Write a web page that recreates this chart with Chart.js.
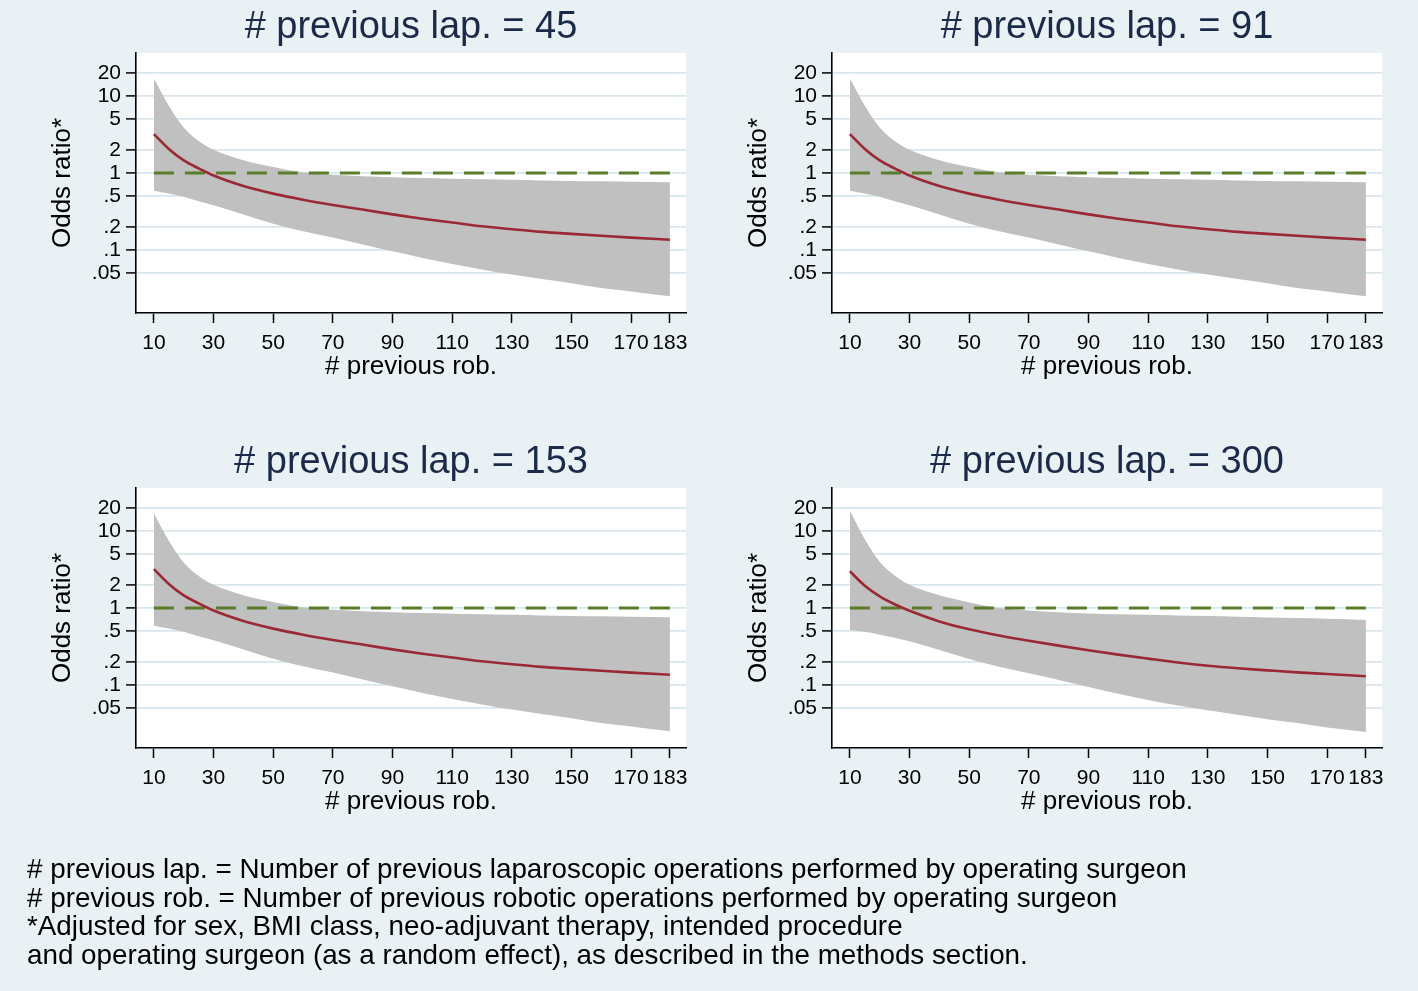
<!DOCTYPE html>
<html>
<head>
<meta charset="utf-8">
<script src="https://cdn.jsdelivr.net/npm/chart.js@4/dist/chart.umd.min.js"></script>
<style>
  html, body { margin: 0; padding: 0; background: #eaf1f4; }
  body { width: 1418px; height: 991px; position: relative; overflow: hidden; font-family: "Liberation Sans", Arial, sans-serif; }
  canvas { position: absolute; }
  #note { position: absolute; left: 27px; top: 855px; font-size: 27.8px; line-height: 28.7px; color: #000; white-space: nowrap; }
</style>
</head>
<body>
<canvas id="c1" width="696" height="435" style="left:0px;top:0px"></canvas>
<canvas id="c2" width="696" height="435" style="left:696px;top:0px"></canvas>
<canvas id="c3" width="696" height="435" style="left:0px;top:435px"></canvas>
<canvas id="c4" width="696" height="435" style="left:696px;top:435px"></canvas>
<div id="note">
# previous lap. = Number of previous laparoscopic operations performed by operating surgeon<br>
# previous rob. = Number of previous robotic operations performed by operating surgeon<br>
*Adjusted for sex, BMI class, neo-adjuvant therapy, intended procedure<br>
and operating surgeon (as a random effect), as described in the methods section.
</div>
<script>
// ---- data ----
const prevRob = [10, 15, 20, 25, 30, 40, 50, 60, 70, 80, 90, 100, 110, 120, 130, 140, 150, 160, 170, 183];

const panelTitles = ["# previous lap. = 45", "# previous lap. = 91", "# previous lap. = 153", "# previous lap. = 300"];

const or45  = [3.2, 2.05, 1.46, 1.15, 0.93, 0.68, 0.54, 0.45, 0.385, 0.335, 0.29, 0.255, 0.228, 0.203, 0.186, 0.172, 0.162, 0.153, 0.145, 0.136];
const up45  = [17, 7.5, 3.9, 2.6, 2.0, 1.47, 1.2, 1.02, 0.95, 0.91, 0.88, 0.86, 0.845, 0.83, 0.815, 0.80, 0.79, 0.78, 0.77, 0.76];
const lo45  = [0.59, 0.54, 0.49, 0.43, 0.38, 0.29, 0.22, 0.175, 0.145, 0.118, 0.096, 0.079, 0.066, 0.056, 0.048, 0.042, 0.037, 0.032, 0.029, 0.025];

const or91  = [3.2, 2.05, 1.46, 1.15, 0.93, 0.68, 0.54, 0.45, 0.385, 0.335, 0.29, 0.255, 0.228, 0.203, 0.186, 0.172, 0.162, 0.153, 0.145, 0.136];
const up91  = [17, 7.5, 3.9, 2.6, 2.0, 1.47, 1.2, 1.02, 0.95, 0.91, 0.88, 0.86, 0.845, 0.83, 0.815, 0.80, 0.79, 0.78, 0.77, 0.76];
const lo91  = [0.59, 0.54, 0.49, 0.43, 0.38, 0.29, 0.22, 0.175, 0.145, 0.118, 0.096, 0.079, 0.066, 0.056, 0.048, 0.042, 0.037, 0.032, 0.029, 0.025];

const or153 = [3.2, 2.05, 1.46, 1.15, 0.93, 0.68, 0.54, 0.45, 0.385, 0.335, 0.29, 0.255, 0.228, 0.203, 0.186, 0.172, 0.162, 0.153, 0.145, 0.136];
const up153 = [17, 7.5, 3.9, 2.6, 2.0, 1.47, 1.2, 1.02, 0.95, 0.91, 0.88, 0.86, 0.845, 0.83, 0.815, 0.80, 0.79, 0.78, 0.77, 0.76];
const lo153 = [0.59, 0.54, 0.49, 0.43, 0.38, 0.29, 0.22, 0.175, 0.145, 0.118, 0.096, 0.079, 0.066, 0.056, 0.048, 0.042, 0.037, 0.032, 0.029, 0.025];

const or300 = [3.0, 1.95, 1.42, 1.12, 0.92, 0.67, 0.53, 0.44, 0.375, 0.325, 0.283, 0.248, 0.22, 0.196, 0.178, 0.165, 0.155, 0.146, 0.139, 0.13];
const up300 = [18.5, 7.8, 4.0, 2.65, 2.0, 1.46, 1.18, 1.0, 0.93, 0.88, 0.85, 0.83, 0.815, 0.80, 0.785, 0.77, 0.755, 0.74, 0.725, 0.70];
const lo300 = [0.52, 0.49, 0.45, 0.41, 0.37, 0.285, 0.218, 0.172, 0.142, 0.116, 0.094, 0.077, 0.064, 0.054, 0.047, 0.041, 0.036, 0.032, 0.028, 0.0245];

const refOR = [1, 1];
const refX = [10, 183];

const xTicks = [10, 30, 50, 70, 90, 110, 130, 150, 170, 183];
const yTicks = [0.05, 0.1, 0.2, 0.5, 1, 2, 5, 10, 20];
const yTickLabels = [".05", ".1", ".2", ".5", "1", "2", "5", "10", "20"];

const xTitle = "# previous rob.";
const yTitle = "Odds ratio*";

// ---- drawing ----
const FONT = "'Liberation Sans', Arial, sans-serif";
const pts = (xs, ys) => xs.map((x, i) => ({x: x, y: ys[i]}));

const plotBg = {
  id: 'plotBg',
  beforeDraw(chart) {
    const {ctx, chartArea: a} = chart;
    ctx.save();
    ctx.fillStyle = '#ffffff';
    ctx.fillRect(a.left, a.top, a.right - a.left, a.bottom - a.top);
    ctx.restore();
  }
};

function makeChart(id, title, orv, upv, lov) {
  new Chart(document.getElementById(id), {
    type: 'line',
    data: {
      datasets: [
        { label: 'OR', data: pts(prevRob, orv), borderColor: '#9a2935', borderWidth: 2.6, pointRadius: 0, fill: false, cubicInterpolationMode: 'monotone' },
        { label: 'ref', data: pts(refX, refOR), borderColor: '#5a7d2b', borderWidth: 3, borderDash: [20, 11], pointRadius: 0, fill: false },
        { label: 'upper', data: pts(prevRob, upv), borderWidth: 0, borderColor: 'rgba(0,0,0,0)', backgroundColor: '#c0c0c0', pointRadius: 0, fill: '+1', cubicInterpolationMode: 'monotone' },
        { label: 'lower', data: pts(prevRob, lov), borderWidth: 0, borderColor: 'rgba(0,0,0,0)', pointRadius: 0, fill: false, cubicInterpolationMode: 'monotone' }
      ]
    },
    options: {
      responsive: false,
      animation: false,
      devicePixelRatio: 1,
      layout: { padding: { left: 0, top: 0, right: 10, bottom: 42 } },
      plugins: {
        legend: { display: false },
        tooltip: { enabled: false },
        title: {
          display: true, text: title, fullSize: false, color: '#1c2a4a',
          font: { family: FONT, size: 38, weight: 'normal', lineHeight: 1.2 },
          padding: { top: 5.2, bottom: 2.2 }
        }
      },
      scales: {
        x: {
          type: 'linear', min: 4, max: 188.4,
          afterBuildTicks: s => { s.ticks = xTicks.map(v => ({value: v})); },
          afterFit: s => { s.height = 80; },
          ticks: { autoSkip: false, maxRotation: 0, padding: 7.4, color: '#000', font: { family: FONT, size: 21 }, callback: v => String(v) },
          grid: { drawOnChartArea: false, drawTicks: true, tickLength: 10, tickColor: '#000', tickWidth: 1.5 },
          border: { display: true, color: '#000', width: 1.6 },
          title: { display: true, text: xTitle, color: '#000', font: { family: FONT, size: 26, lineHeight: 1.2 }, padding: { top: 0, bottom: 10.4 } }
        },
        y: {
          type: 'logarithmic', min: 0.0152, max: 36.2,
          afterBuildTicks: s => { s.ticks = yTicks.map(v => ({value: v})); },
          afterFit: s => { s.width = 136; },
          ticks: { padding: 5, color: '#000', font: { family: FONT, size: 21 }, callback: v => { const i = yTicks.indexOf(v); return i >= 0 ? yTickLabels[i] : ''; } },
          grid: { color: '#d8e6ec', lineWidth: 1.8, drawTicks: true, tickLength: 10, tickColor: '#000', tickWidth: 1.5 },
          border: { display: true, color: '#000', width: 1.6 },
          title: { display: true, text: yTitle, color: '#000', font: { family: FONT, size: 26, lineHeight: 1.2 }, padding: { top: 47.4, bottom: 0 } }
        }
      }
    },
    plugins: [plotBg]
  });
}

makeChart('c1', panelTitles[0], or45, up45, lo45);
makeChart('c2', panelTitles[1], or91, up91, lo91);
makeChart('c3', panelTitles[2], or153, up153, lo153);
makeChart('c4', panelTitles[3], or300, up300, lo300);
</script>
</body>
</html>
